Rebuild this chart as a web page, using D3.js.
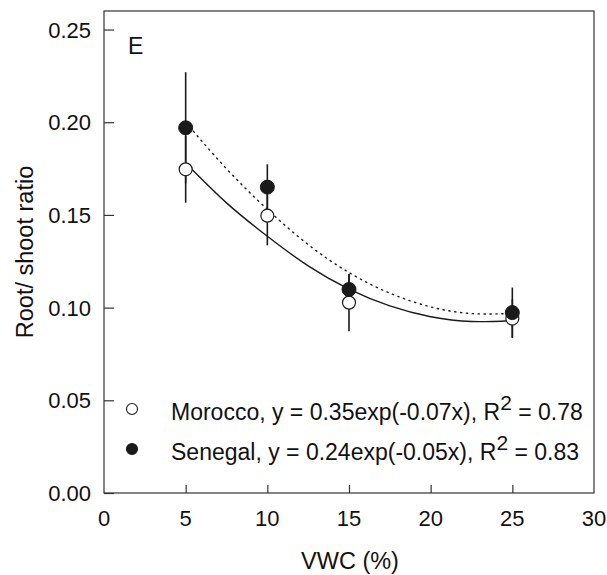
<!DOCTYPE html>
<html><head><meta charset="utf-8">
<script src="https://cdn.jsdelivr.net/npm/d3@7"></script>
<style>body{margin:0;background:#fff}svg{display:block}text{font-family:"Liberation Sans",Arial,sans-serif;fill:#111}</style>
</head><body>
<svg id="c" width="607" height="575"></svg>
<script>
const vwc = [5, 10, 15, 25];
const moroccoMean = [0.1746, 0.1496, 0.1027, 0.0941];
const moroccoSE   = [0.0180, 0.0160, 0.0154, 0.0104];
const senegalMean = [0.1970, 0.1650, 0.1098, 0.0973];
const senegalSE   = [0.0300, 0.0123, 0.0082, 0.0135];
// fitted curves
const fitX = [5, 7.5, 10, 12.5, 15, 17.5, 20, 22.5, 25];
const moroccoFit = [0.1780, 0.1565, 0.1385, 0.1225, 0.1100, 0.1009, 0.0951, 0.0925, 0.0930];
const senegalFit = [0.2000, 0.1749, 0.1530, 0.1340, 0.1189, 0.1078, 0.1004, 0.0968, 0.0969];
const xTicks = [0, 5, 10, 15, 20, 25, 30];
const yTicks = [0, 0.05, 0.10, 0.15, 0.20, 0.25];
const legendLabels = [
  {name: "Morocco, y = 0.35exp(-0.07x), R", r2: "0.78", filled: false},
  {name: "Senegal, y = 0.24exp(-0.05x), R", r2: "0.83", filled: true}
];

const svg = d3.select("#c");
const L = 104, R = 594, T = 11, B = 493;
const x = d3.scaleLinear().domain([0, 30]).range([L, R]);
const y = d3.scaleLinear().domain([0, 0.26]).range([B, T]);
const ink = "#1a1a1a";

// frame
svg.append("rect").attr("x", L).attr("y", T).attr("width", R - L).attr("height", B - T)
  .attr("fill", "none").attr("stroke", "#333").attr("stroke-width", 1.2);

// axes with inward ticks
const yAxis = svg.append("g").attr("transform", `translate(${L},0)`)
  .call(d3.axisRight(y).tickValues(yTicks).tickSize(10).tickFormat(""));
yAxis.select(".domain").remove();
yAxis.selectAll("line").attr("stroke", "#333").attr("stroke-width", 1.2);
const xAxis = svg.append("g").attr("transform", `translate(0,${B})`)
  .call(d3.axisTop(x).tickValues(xTicks.slice(1, -1)).tickSize(8).tickFormat(""));
xAxis.select(".domain").remove();
xAxis.selectAll("line").attr("stroke", "#333").attr("stroke-width", 1.2);

// tick labels
svg.selectAll(".yl").data(yTicks).join("text")
  .attr("x", L - 13).attr("y", d => y(d) + 8).attr("text-anchor", "end")
  .attr("font-size", 22).text(d3.format(".2f"));
svg.selectAll(".xl").data(xTicks).join("text")
  .attr("x", d => x(d)).attr("y", B + 33).attr("text-anchor", "middle")
  .attr("font-size", 22).text(d => d);

// axis titles
svg.append("text").attr("x", (L + R) / 2 + 1).attr("y", 569).attr("text-anchor", "middle")
  .attr("font-size", 23.5).text("VWC (%)");
svg.append("text").attr("transform", `translate(33,${(T + B) / 2}) rotate(-90)`)
  .attr("text-anchor", "middle").attr("font-size", 23.5).text("Root/ shoot ratio");

// panel letter
svg.append("text").attr("x", 128).attr("y", 54).attr("font-size", 23).text("E");

// curves
const line = d3.line().x(d => x(d[0])).y(d => y(d[1])).curve(d3.curveNatural);
svg.append("path").datum(fitX.map((v, i) => [v, senegalFit[i]])).attr("d", line)
  .attr("fill", "none").attr("stroke", ink).attr("stroke-width", 1.4)
  .attr("stroke-dasharray", "1.3,4.6").attr("stroke-linecap", "round");
svg.append("path").datum(fitX.map((v, i) => [v, moroccoFit[i]])).attr("d", line)
  .attr("fill", "none").attr("stroke", ink).attr("stroke-width", 1.4);

// error bars
function bars(mean, se) {
  svg.append("g").selectAll("line").data(vwc).join("line")
    .attr("x1", d => x(d)).attr("x2", d => x(d))
    .attr("y1", (d, i) => y(mean[i] - se[i])).attr("y2", (d, i) => y(mean[i] + se[i]))
    .attr("stroke", ink).attr("stroke-width", 1.6);
}
bars(moroccoMean, moroccoSE);
bars(senegalMean, senegalSE);

// points
svg.append("g").selectAll("circle").data(vwc).join("circle")
  .attr("cx", d => x(d)).attr("cy", (d, i) => y(moroccoMean[i])).attr("r", 6.5)
  .attr("fill", "#fff").attr("stroke", ink).attr("stroke-width", 1.2);
svg.append("g").selectAll("circle").data(vwc).join("circle")
  .attr("cx", d => x(d)).attr("cy", (d, i) => y(senegalMean[i])).attr("r", 7)
  .attr("fill", ink).attr("stroke", ink).attr("stroke-width", 1);

// legend
const lg = svg.append("g");
legendLabels.forEach((d, i) => {
  const cy = 409 + i * 40;
  lg.append("circle").attr("cx", 132).attr("cy", cy).attr("r", 5.5)
    .attr("fill", d.filled ? ink : "#fff").attr("stroke", ink).attr("stroke-width", 1.1);
  const t = lg.append("text").attr("x", 171).attr("y", cy + 11).attr("font-size", 23);
  t.append("tspan").text(d.name);
  t.append("tspan").attr("font-size", 21).attr("dy", -10).text("2");
  t.append("tspan").attr("dy", 10).text(" = " + d.r2);
});
</script>
</body></html>
